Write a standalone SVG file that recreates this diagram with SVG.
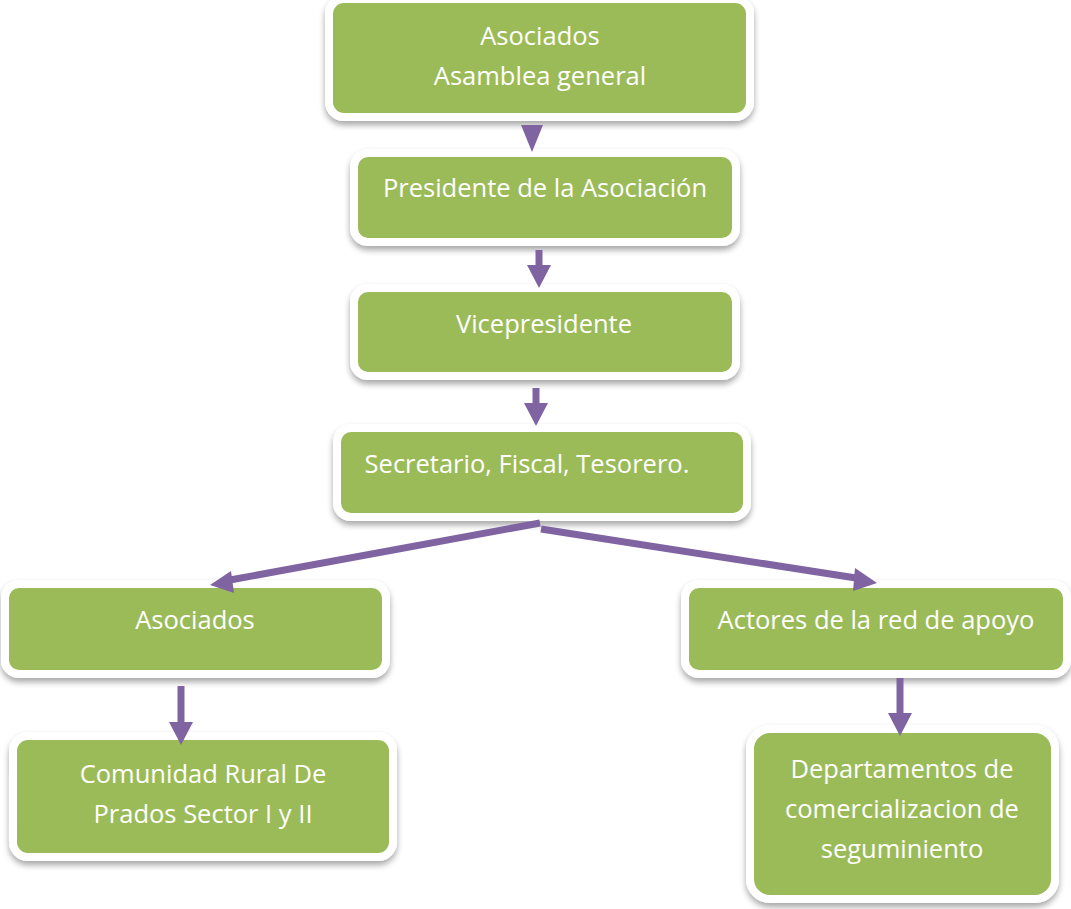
<svg xmlns="http://www.w3.org/2000/svg" width="1071" height="909" viewBox="0 0 1071 909">
<defs>
<filter id="sh" x="-10%" y="-20%" width="120%" height="150%">
<feGaussianBlur in="SourceAlpha" stdDeviation="3"/>
<feOffset dx="0" dy="4" result="b"/>
<feComponentTransfer><feFuncA type="linear" slope="0.35"/></feComponentTransfer>
<feMerge><feMergeNode/><feMergeNode in="SourceGraphic"/></feMerge>
</filter>
</defs>
<style>
.box{fill:#9BBB59;stroke:#ffffff;stroke-width:8;filter:url(#sh)}
.t{font-family:"Open Sans","Liberation Sans",sans-serif;font-size:25.5px;fill:#ffffff;text-anchor:middle}
.c{stroke:#8064A2;stroke-width:7;fill:none}
.h{fill:#8064A2}
</style>
<rect width="1071" height="909" fill="#ffffff"/>
<g id="n1"><rect class="box" x="329" y="-1" width="421" height="118" rx="15"/>
<text class="t" x="540" y="45">Asociados</text><text class="t" x="540" y="85">Asamblea general</text></g>
<g id="n2"><rect class="box" x="354" y="153" width="382" height="89" rx="14"/>
<text class="t" x="545" y="197">Presidente de la Asociación</text></g>
<g id="n3"><rect class="box" x="354" y="288" width="382" height="88" rx="14"/>
<text class="t" x="544" y="333">Vicepresidente</text></g>
<g id="n4"><rect class="box" x="337" y="428" width="410" height="89" rx="14"/>
<text class="t" x="527" y="473">Secretario, Fiscal, Tesorero.</text></g>
<g id="n5"><rect class="box" x="5" y="584" width="381" height="90" rx="14"/>
<text class="t" x="195" y="629">Asociados</text></g>
<g id="n6"><rect class="box" x="13" y="736" width="380" height="121" rx="15"/>
<text class="t" x="203" y="783">Comunidad Rural De</text><text class="t" x="203" y="823">Prados Sector I y II</text></g>
<g id="n7"><rect class="box" x="685" y="584" width="382" height="90" rx="14"/>
<text class="t" x="876" y="629">Actores de la red de apoyo</text></g>
<g id="n8"><rect class="box" x="750" y="729" width="305" height="170" rx="20"/>
<text class="t" x="902" y="778">Departamentos de</text><text class="t" x="902" y="818">comercializacion de</text><text class="t" x="902" y="858">seguminiento</text></g>
<g id="connectors">
<path class="h" d="M521,125 L543,125 L532,152 Z"/>
<line class="c" x1="539" y1="250" x2="539" y2="268"/>
<path class="h" d="M527,265 L551,265 L539,288 Z"/>
<line class="c" x1="536" y1="388" x2="536" y2="405"/>
<path class="h" d="M524,403 L548,403 L536,426 Z"/>
<line class="c" x1="540" y1="523" x2="230" y2="580"/>
<path class="h" d="M210,585 L231,571 L234,593 Z"/>
<line class="c" x1="541" y1="529" x2="856" y2="578"/>
<path class="h" d="M877,583 L855,568 L853,591 Z"/>
<line class="c" x1="181" y1="686" x2="181" y2="724"/>
<path class="h" d="M169,722 L193,722 L181,745 Z"/>
<line class="c" x1="900" y1="678" x2="900" y2="715"/>
<path class="h" d="M888,713 L912,713 L900,736 Z"/>
</g>
</svg>
